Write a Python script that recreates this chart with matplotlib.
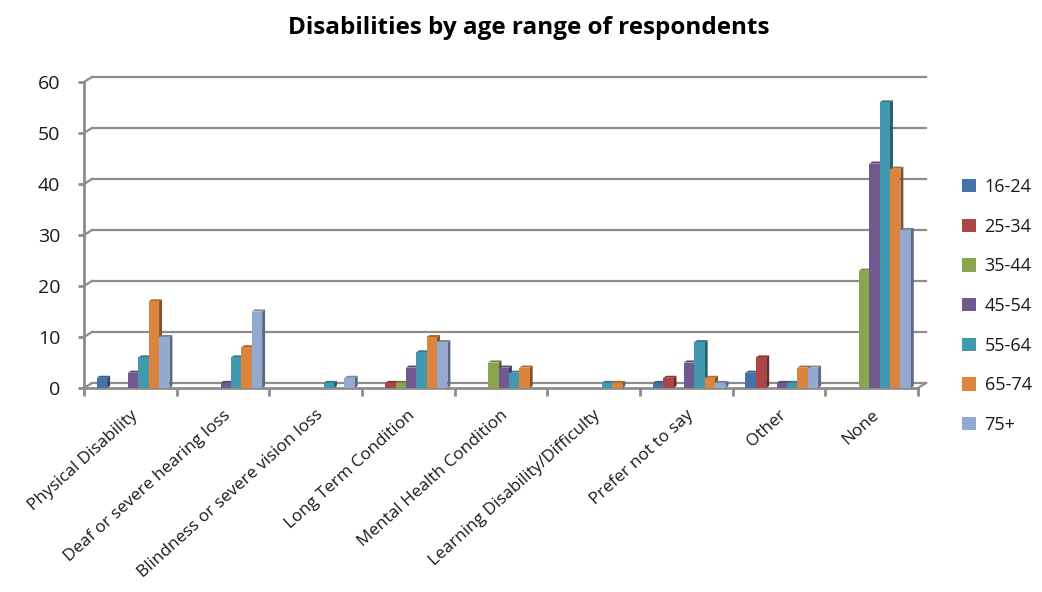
import numpy as np
import matplotlib.pyplot as plt
from matplotlib.patches import Polygon, Patch
from matplotlib.colors import to_rgb

plt.rcParams['font.family'] = ['Open Sans', 'DejaVu Sans']

categories = ["Physical Disability", "Deaf or severe hearing loss",
              "Blindness or severe vision loss", "Long Term Condition",
              "Mental Health Condition", "Learning Disability/Difficulty",
              "Prefer not to say", "Other", "None"]
age_groups = ["16-24", "25-34", "35-44", "45-54", "55-64", "65-74", "75+"]

# counts per age group, one value per category
age_16_24 = [2, 0, 0, 0, 0, 0, 1, 3, 0]
age_25_34 = [0, 0, 0, 1, 0, 0, 2, 6, 0]
age_35_44 = [0, 0, 0, 1, 5, 0, 0, 0, 23]
age_45_54 = [3, 1, 0, 4, 4, 0, 5, 1, 44]
age_55_64 = [6, 6, 1, 7, 3, 1, 9, 1, 56]
age_65_74 = [17, 8, 0, 10, 4, 1, 2, 4, 43]
age_75_plus = [10, 15, 2, 9, 0, 0, 1, 4, 31]

series = [age_16_24, age_25_34, age_35_44, age_45_54,
          age_55_64, age_65_74, age_75_plus]
colors = ['#4572A7', '#AA4643', '#89A54E', '#71588F',
          '#4198AF', '#DB843D', '#93A9CF']

grid_col = '#8c8c8c'
text_col = '#1a1a1a'

fig = plt.figure(figsize=(10.42, 5.92), dpi=100)
ax = fig.add_axes([84 / 1042, (592 - 388) / 592, (918 - 84) / 1042, 306 / 592])
ax.set_xlim(0, len(categories))
ax.set_ylim(0, 60)
for s in ax.spines.values():
    s.set_visible(False)

# back wall offset (depth of the wall) in data units
DX, DY = 0.086, 0.98
for v in range(0, 61, 10):
    ax.plot([DX, len(categories) + DX], [v + DY, v + DY], color=grid_col,
            lw=1.6, clip_on=False, zorder=1)
    ax.plot([0, DX], [v, v + DY], color=grid_col, lw=1.6, clip_on=False, zorder=1)
ax.plot([len(categories), len(categories) + DX], [0, DY], color=grid_col,
        lw=1.6, clip_on=False, zorder=1)
# front axis lines
ax.plot([0, 0], [0, 60], color=grid_col, lw=2, clip_on=False, zorder=2)
ax.plot([0, len(categories)], [0, 0], color=grid_col, lw=2, clip_on=False, zorder=2)

# clustered bars with a small side and top face
w = 0.112
BX, BY = 0.032, 0.4
centers = np.arange(len(categories)) + 0.53
z = 3
for j, (vals, c) in enumerate(zip(series, colors)):
    base = np.array(to_rgb(c))
    side = base * 0.62
    top = base * 0.8
    xs = centers + (j - 3) * w
    for x, v in zip(xs, vals):
        if v == 0:
            continue
        l, r = x - w / 2, x + w / 2
        ax.add_patch(Polygon([(r, 0), (r + BX, BY), (r + BX, v + BY), (r, v)],
                             closed=True, fc=side, ec='none', zorder=z + j * 3,
                             clip_on=False))
        ax.add_patch(Polygon([(l, v), (l + BX, v + BY), (r + BX, v + BY), (r, v)],
                             closed=True, fc=top, ec='none', zorder=z + j * 3 + 1,
                             clip_on=False))
    ax.bar(xs, vals, w, color=c, zorder=z + j * 3 + 2)

ax.set_yticks(range(0, 61, 10))
ax.tick_params(axis='y', length=4, width=2, color=grid_col, pad=13,
               labelsize=14, labelcolor=text_col)
ax.set_xticks(range(len(categories) + 1))
ax.set_xticklabels([])
ax.tick_params(axis='x', which='major', length=6, width=2, color=grid_col)

# slanted category labels, right end under each category centre
for i, cat in enumerate(categories):
    ax.annotate(cat, (i + 0.5, 0), xycoords=ax.get_xaxis_transform(),
                xytext=(5, -25), textcoords='offset pixels',
                rotation=42, ha='right', va='center', rotation_mode='anchor',
                fontsize=12.3, color=text_col, annotation_clip=False)

fig.text(529 / 1042, 1 - 28 / 592, "Disabilities by age range of respondents",
         ha='center', va='center', fontsize=17.5, fontweight='bold', color='black')

handles = [Patch(fc=c, ec='none') for c in colors]
fig.legend(handles, age_groups, loc='upper left',
           bbox_to_anchor=(962 / 1042, 1 - 178 / 592), frameon=False,
           fontsize=13, handlelength=0.75, handleheight=0.75,
           handletextpad=0.5, labelspacing=1.2, borderpad=0, borderaxespad=0,
           labelcolor=text_col)

fig.savefig('out.png', dpi=100)
